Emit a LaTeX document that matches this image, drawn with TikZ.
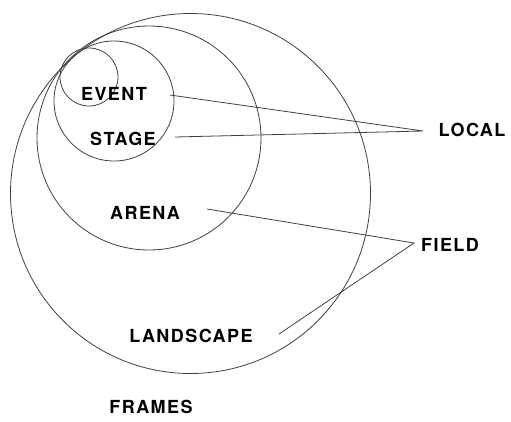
\documentclass[tikz,border=0pt]{standalone}
\usepackage{fontspec}
\setmainfont{TeX Gyre Heros}
\newfontfamily\lblfont[LetterSpace=8]{TeX Gyre Heros}
\usetikzlibrary{positioning}

\begin{document}
\begin{tikzpicture}[
  x=1pt, y=-1pt,
  lbl/.style={font=\lblfont\bfseries\fontsize{18}{20}\selectfont, inner sep=0pt},
  rim/.style={draw=black!75, line width=0.8pt},
  ln/.style={black!75, line width=0.8pt}
]
\useasboundingbox (0,0) rectangle (511,421);

% nested frames, all touching near the upper left
\draw[rim] (89,77) circle[radius=29pt];
\draw[rim] (114,101) circle[radius=60pt];
\draw[rim] (149,138) circle[radius=112pt];
\draw[rim] (190.5,193.5) circle[radius=180pt];

\node[lbl] (event) at (114,94) {EVENT};
\node[lbl] (stage) at (123,139) {STAGE};
\node[lbl] (arena) at (145,213) {ARENA};
\node[lbl] (landscape) at (191,336) {LANDSCAPE};
\node[lbl] (frames) at (151,407) {FRAMES};
\node[lbl] (local) at (472,130) {LOCAL};
\node[lbl] (field) at (450,245) {FIELD};

\coordinate (localtip) at (423,131);
\coordinate (fieldtip) at (414,243);
\coordinate (ev-r) at (170,95);
\coordinate (st-r) at (175,137);
\coordinate (ar-r) at (207,209);
\coordinate (la-r) at (279,334);

\draw[ln] (ev-r) -- (localtip) -- (st-r);
\draw[ln] (ar-r) -- (fieldtip) -- (la-r);
\end{tikzpicture}
\end{document}
